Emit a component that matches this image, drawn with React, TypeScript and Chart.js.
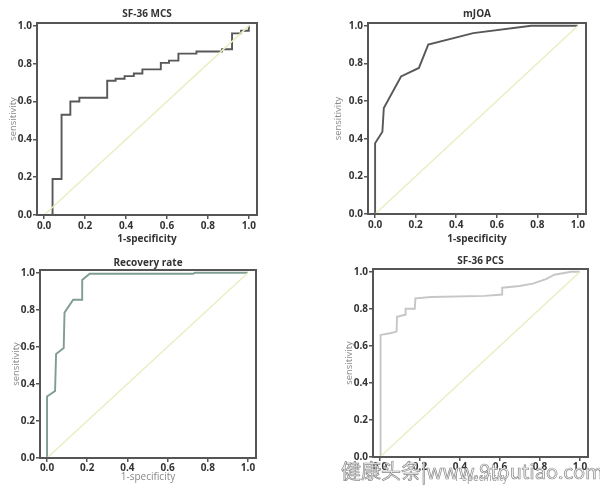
import React, { useEffect, useRef } from 'react';
import { Chart, registerables } from 'chart.js';

Chart.register(...registerables);

// ---- data ----
const xTickValues = [0, 0.2, 0.4, 0.6, 0.8, 1.0];
const yTickValues = [0, 0.2, 0.4, 0.6, 0.8, 1.0];
const diagX = [0, 1];
const diagY = [0, 1];

const mcsFpr = [0, 0.041, 0.041, 0.085, 0.128, 0.172, 0.308, 0.349, 0.393, 0.438, 0.48, 0.57, 0.61, 0.656, 0.744, 0.869, 0.918, 0.962, 1.0];
const mcsTpr = [0, 0, 0.19, 0.53, 0.6, 0.62, 0.71, 0.72, 0.734, 0.748, 0.77, 0.804, 0.816, 0.853, 0.864, 0.876, 0.96, 0.974, 1.0];

const mjoaFpr = [0, 0, 0.036, 0.043, 0.128, 0.216, 0.262, 0.484, 0.77, 1.0];
const mjoaTpr = [0, 0.376, 0.437, 0.563, 0.731, 0.776, 0.9, 0.961, 1.0, 1.0];

const recFpr = [0, 0, 0.04, 0.045, 0.083, 0.087, 0.13, 0.175, 0.175, 0.212, 0.728, 0.735, 1.0];
const recTpr = [0, 0.332, 0.362, 0.561, 0.594, 0.785, 0.854, 0.854, 0.961, 0.995, 0.995, 1.0, 1.0];

const pcsFpr = [0, 0.003, 0.003, 0.05, 0.083, 0.085, 0.125, 0.128, 0.174, 0.177, 0.257, 0.523, 0.611, 0.611, 0.698, 0.764, 0.83, 0.872, 0.955, 1.0];
const pcsTpr = [0, 0, 0.659, 0.668, 0.677, 0.757, 0.768, 0.8, 0.8, 0.857, 0.864, 0.87, 0.877, 0.914, 0.923, 0.936, 0.96, 0.984, 1.0, 1.0];

const panelTitles = ['SF-36 MCS', 'mJOA', 'Recovery rate', 'SF-36 PCS'];
const xAxisTitle = '1-specificity';
const yAxisTitle = 'sensitivity';
const watermarkText = '健康头条|www.9toutiao.com';

const FONT = "'Open Sans', 'DejaVu Sans', sans-serif";

type Spec = {
  left: number; top: number; w: number; h: number;
  title: string; titlePadTop: number; titlePadBottom: number;
  yWidth: number; yTitlePad: number;
  xHeight: number; xTitlePad: number; xTitleBold: boolean; xTitleColor: string;
  padRight: number; tickPad: number;
  fpr: number[]; tpr: number[]; color: string; stepped: any;
};

const specs: Spec[] = [
  { left: 0, top: 0, w: 300, h: 250, title: panelTitles[0], titlePadTop: 8, titlePadBottom: 3,
    yWidth: 37, yTitlePad: 8, xHeight: 35, xTitlePad: 5, xTitleBold: true, xTitleColor: '#333',
    padRight: 43, tickPad: 1, fpr: mcsFpr, tpr: mcsTpr, color: '#585858', stepped: 'before' },
  { left: 300, top: 0, w: 300, h: 250, title: panelTitles[1], titlePadTop: 8, titlePadBottom: 3,
    yWidth: 68, yTitlePad: 33, xHeight: 36, xTitlePad: 5, xTitleBold: true, xTitleColor: '#333',
    padRight: 14, tickPad: 1, fpr: mjoaFpr, tpr: mjoaTpr, color: '#585858', stepped: false },
  { left: 0, top: 250, w: 300, h: 235, title: panelTitles[2], titlePadTop: 7, titlePadBottom: 1,
    yWidth: 40, yTitlePad: 11, xHeight: 27, xTitlePad: 2, xTitleBold: false, xTitleColor: '#888',
    padRight: 44, tickPad: 0, fpr: recFpr, tpr: recTpr, color: '#7f9c95', stepped: false },
  { left: 300, top: 250, w: 300, h: 235, title: panelTitles[3], titlePadTop: 5, titlePadBottom: 2,
    yWidth: 73, yTitlePad: 44, xHeight: 28, xTitlePad: 1, xTitleBold: false, xTitleColor: '#999',
    padRight: 12, tickPad: 0, fpr: pcsFpr, tpr: pcsTpr, color: '#c6c6c6', stepped: false },
];

const boxPlugin = {
  id: 'plotBox',
  afterDatasetsDraw(chart: any) {
    const { ctx, chartArea: a } = chart;
    ctx.save();
    ctx.strokeStyle = '#555';
    ctx.lineWidth = 2;
    ctx.strokeRect(a.left, a.top, a.right - a.left, a.bottom - a.top);
    ctx.restore();
  },
};

function Panel({ s }: { s: Spec }) {
  const ref = useRef<HTMLCanvasElement>(null);
  useEffect(() => {
    if (!ref.current) return;
    const curve = s.fpr.map((x, i) => ({ x, y: s.tpr[i] }));
    const diag = diagX.map((x, i) => ({ x, y: diagY[i] }));
    const chart = new Chart(ref.current, {
      type: 'scatter',
      data: {
        datasets: [
          { data: diag, showLine: true, borderColor: '#e9efc2', borderWidth: 1.5, pointRadius: 0 },
          { data: curve, showLine: true, borderColor: s.color, borderWidth: 1.9, pointRadius: 0, stepped: s.stepped },
        ],
      },
      options: {
        responsive: false,
        animation: false,
        devicePixelRatio: 1,
        layout: { padding: { left: 0, right: s.padRight, top: 0, bottom: 0 } },
        plugins: {
          legend: { display: false },
          tooltip: { enabled: false },
          title: {
            display: true, text: s.title, fullSize: false, color: '#333',
            font: { family: FONT, size: 10, weight: 'bold', lineHeight: 1.2 },
            padding: { top: s.titlePadTop, bottom: s.titlePadBottom },
          },
        },
        scales: {
          x: {
            type: 'linear', min: -0.035, max: 1.04,
            afterBuildTicks: (sc: any) => { sc.ticks = xTickValues.map((v) => ({ value: v })); },
            afterFit: (sc: any) => { sc.height = s.xHeight; },
            ticks: { autoSkip: false, maxRotation: 0, padding: s.tickPad, color: '#333',
              font: { family: FONT, size: 10, weight: 'bold' }, callback: (v: any) => Number(v).toFixed(1) },
            grid: { display: true, drawOnChartArea: false, drawTicks: true, tickLength: 4, color: '#555', lineWidth: 1.5 },
            border: { display: false },
            title: { display: true, text: xAxisTitle, color: s.xTitleColor,
              font: { family: FONT, size: 10, weight: s.xTitleBold ? 'bold' : 'normal', lineHeight: 1.2 },
              padding: { top: 0, bottom: s.xTitlePad } },
          },
          y: {
            type: 'linear', min: 0, max: 1.015,
            afterBuildTicks: (sc: any) => { sc.ticks = yTickValues.map((v) => ({ value: v })); },
            afterFit: (sc: any) => { sc.width = s.yWidth; },
            ticks: { autoSkip: false, padding: 1, color: '#333',
              font: { family: FONT, size: 10, weight: 'bold' }, callback: (v: any) => Number(v).toFixed(1) },
            grid: { display: true, drawOnChartArea: false, drawTicks: true, tickLength: 4, color: '#555', lineWidth: 1.5 },
            border: { display: false },
            title: { display: true, text: yAxisTitle, color: '#8a8a8a',
              font: { family: FONT, size: 9.5, weight: 'normal', lineHeight: 1.2 },
              padding: { top: s.yTitlePad, bottom: 0 } },
          },
        },
      } as any,
      plugins: [boxPlugin],
    });
    return () => chart.destroy();
  }, [s]);
  return (
    <canvas
      ref={ref}
      width={s.w}
      height={s.h}
      style={{ position: 'absolute', left: s.left, top: s.top, width: s.w, height: s.h }}
    />
  );
}

export default function App() {
  return (
    <div style={{ position: 'absolute', left: 0, top: 0, width: 600, height: 485, background: '#fff', overflow: 'hidden' }}>
      {specs.map((s, i) => <Panel key={i} s={s} />)}
      <div
        style={{
          position: 'absolute', left: 341, top: 461, fontSize: 20, lineHeight: '20px',
          fontFamily: "'Noto Sans CJK SC', 'Noto Sans', sans-serif", color: '#f6f6f6',
          WebkitTextStroke: '0.7px #8a8a8a', whiteSpace: 'nowrap',
        } as any}
      >
        {watermarkText}
      </div>
    </div>
  );
}
